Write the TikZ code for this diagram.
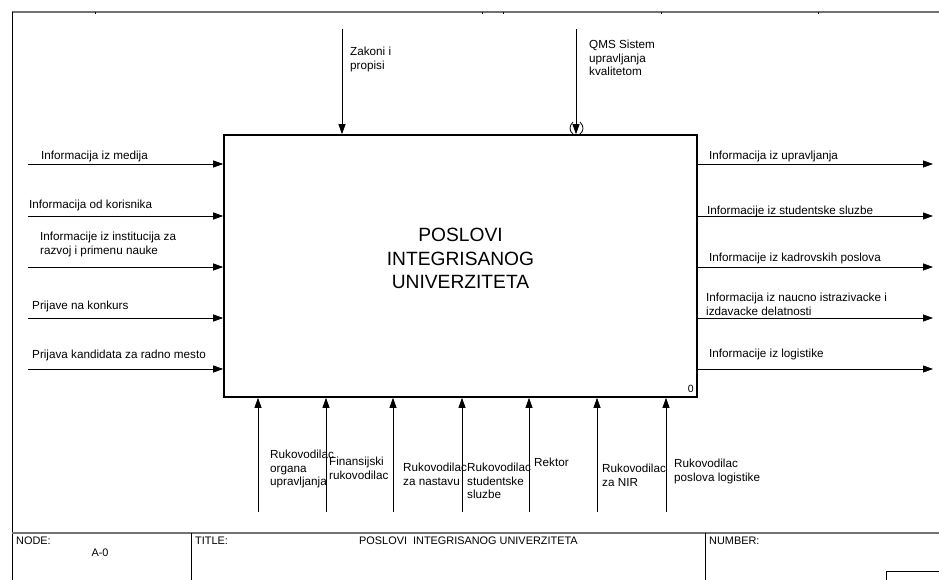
\documentclass[tikz,border=0pt]{standalone}
\usepackage{fontspec}
\setmainfont{Liberation Sans}
\usetikzlibrary{arrows.meta}
\begin{document}
\begin{tikzpicture}[x=1pt,y=-1pt,
  flow/.style={-{Triangle[length=10pt,width=7pt]}, line width=0.8pt},
  lbl/.style={anchor=north west, inner sep=0pt, align=left,
              font=\fontsize{11.7}{13.6}\selectfont},
  blk/.style={anchor=north west, inner sep=0pt,
              font=\fontsize{10.9}{12.5}\selectfont},
  frameline/.style={draw=black!55, line width=1.5pt},
  thin/.style={line width=0.8pt}]
\useasboundingbox (0,0) rectangle (939,580);

% sheet frame
\draw[frameline] (12,12) -- (939,12);
\draw[thin] (12,12) -- (12,580);
\foreach \t in {95,482,503,661,818} \draw[line width=0.6pt] (\t,12) -- (\t,14.5);

% activity box
\node[draw, line width=1.6pt, minimum width=473pt, minimum height=262pt, inner sep=0pt]
  (box) at (460.5,266) {};
\node[align=center, inner sep=0pt, font=\fontsize{19.2}{23.5}\selectfont]
  (boxtext) at (460.5,258.5) {POSLOVI\\INTEGRISANOG\\UNIVERZITETA};
\node[anchor=south east, inner sep=0pt, font=\fontsize{10.5}{12}\selectfont]
  (boxnum) at (694,393) {0};

% inputs
\coordinate (i1) at (28,164);
\coordinate (i2) at (28,216);
\coordinate (i3) at (28,267);
\coordinate (i4) at (28,318);
\coordinate (i5) at (28,369);
\foreach \c in {i1,i2,i3,i4,i5} \draw[flow] (\c) -- (\c -| box.west);
\node[lbl] (li1) at (41,151) {Informacija iz medija};
\node[lbl] (li2) at (29,200) {Informacija od korisnika};
\node[lbl] (li3) at (40,232) {Informacije iz institucija za\\razvoj i primenu nauke};
\node[lbl] (li4) at (32,301) {Prijave na konkurs};
\node[lbl] (li5) at (32,350) {Prijava kandidata za radno mesto};

% outputs
\coordinate (o1) at (933,164);
\coordinate (o2) at (933,216);
\coordinate (o3) at (933,267);
\coordinate (o4) at (933,318);
\coordinate (o5) at (933,369);
\foreach \c in {o1,o2,o3,o4,o5} \draw[flow] (\c -| box.east) -- (\c);
\node[lbl] (lo1) at (709,151) {Informacija iz upravljanja};
\node[lbl] (lo2) at (707,206) {Informacije iz studentske sluzbe};
\node[lbl] (lo3) at (709,253) {Informacije iz kadrovskih poslova};
\node[lbl] (lo4) at (706,293) {Informacija iz naucno istrazivacke i\\izdavacke delatnosti};
\node[lbl] (lo5) at (709,349) {Informacije iz logistike};

% controls
\coordinate (c1) at (342,29);
\coordinate (c2) at (576,29);
\draw[flow] (c1) -- (c1 |- box.north);
\draw[flow] (c2) -- (c2 |- box.north);
\node[lbl] (lc1) at (350,47) {Zakoni i\\propisi};
\node[lbl] (lc2) at (589,40) {QMS Sistem\\upravljanja\\kvalitetom};
% tunnel marks on the QMS arrow
\draw[thin] (573,122) .. controls (569,126) and (569,131) .. (573,134);
\draw[thin] (580,122) .. controls (584,126) and (584,131) .. (580,134);

% mechanisms
\coordinate (m1) at (258,512);
\coordinate (m2) at (326,512);
\coordinate (m3) at (393,512);
\coordinate (m4) at (462,512);
\coordinate (m5) at (529,512);
\coordinate (m6) at (597,512);
\coordinate (m7) at (666,512);
\foreach \c in {m1,m2,m3,m4,m5,m6,m7} \draw[flow] (\c) -- (\c |- box.south);
\node[lbl] (lm1) at (270,450) {Rukovodilac\\organa\\upravljanja};
\node[lbl] (lm2) at (329,457) {Finansijski\\rukovodilac};
\node[lbl] (lm3) at (403,463) {Rukovodilac\\za nastavu};
\node[lbl] (lm4) at (467,463) {Rukovodilac\\studentske\\sluzbe};
\node[lbl] (lm5) at (534,458) {Rektor};
\node[lbl] (lm6) at (602,464) {Rukovodilac\\za NIR};
\node[lbl] (lm7) at (674,459) {Rukovodilac\\poslova logistike};

% title block
\draw[frameline] (12,533) -- (939,533);
\draw[thin] (191,533) -- (191,580);
\draw[thin] (705,533) -- (705,580);
\draw[thin] (886,582) -- (886,571) -- (941,571);
\node[blk] (nodelbl) at (16,537) {NODE:};
\node[inner sep=0pt, font=\fontsize{10.9}{12.5}\selectfont] (nodeval) at (100,553) {A-0};
\node[blk] (titlelbl) at (195,537) {TITLE:};
\node[blk] (titleval) at (359,537) {POSLOVI\ \ INTEGRISANOG UNIVERZITETA};
\node[blk] (numlbl) at (709,537) {NUMBER:};
\end{tikzpicture}
\end{document}
